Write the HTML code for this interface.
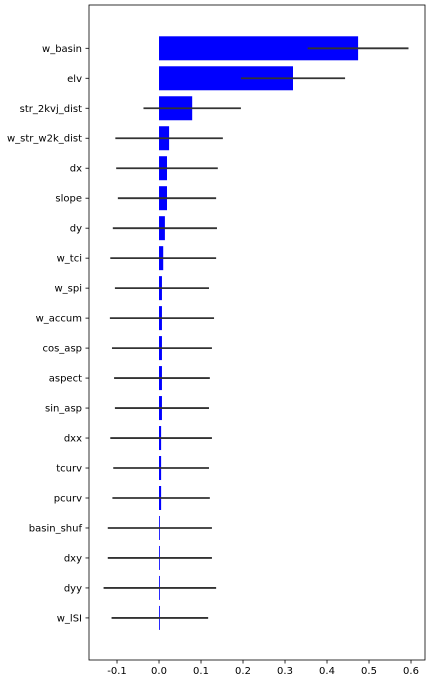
<!DOCTYPE html>
<html><head><meta charset="utf-8"><style>
body{margin:0;background:#fff;font-family:"Liberation Sans","DejaVu Sans",sans-serif}
svg text{font-family:"DejaVu Sans","Liberation Sans",sans-serif;font-size:10px;fill:#000}
</style></head><body>
<svg id="chart" width="431" height="683"></svg>
<script>
const features=["w_basin","elv","str_2kvj_dist","w_str_w2k_dist","dx","slope","dy","w_tci","w_spi","w_accum","cos_asp","aspect","sin_asp","dxx","tcurv","pcurv","basin_shuf","dxy","dyy","w_lSI"];
const importances=[0.474,0.319,0.079,0.024,0.019,0.019,0.014,0.010,0.007,0.007,0.007,0.007,0.007,0.005,0.005,0.005,0.002,0.002,0.002,0.002];
const errors=[0.120,0.124,0.116,0.128,0.121,0.117,0.124,0.126,0.112,0.124,0.119,0.114,0.112,0.121,0.114,0.116,0.124,0.124,0.134,0.115];
const xTicks=[-0.1,0.0,0.1,0.2,0.3,0.4,0.5,0.6];
const NS="http://www.w3.org/2000/svg";
const svg=document.getElementById('chart');
const L=89,R=425,T=5,B=660,xmin=-0.1667,xmax=0.6333;
const x=v=>L+(v-xmin)/(xmax-xmin)*(R-L);
const y=i=>48.3+i*29.98;
function mk(t,a){const e=document.createElementNS(NS,t);for(const k in a)e.setAttribute(k,a[k]);svg.appendChild(e);return e;}
features.forEach((f,i)=>{
  const v=importances[i],e=errors[i];
  const b=mk('rect',{x:Math.min(x(0),x(v)),y:y(i)-12,width:Math.abs(x(v)-x(0)),height:24,fill:'#0000ff'});
  
  
  const l=mk('line',{x1:x(v-e),x2:x(v+e),y1:y(i),y2:y(i),stroke:'#333','stroke-width':1.8});
  
  
  mk('line',{x1:L-3.5,x2:L,y1:y(i),y2:y(i),stroke:'#000','stroke-width':0.8});
  const t=mk('text',{x:L-7,y:y(i)+3.5,'text-anchor':'end'});t.textContent=f;
  
  
});
xTicks.forEach(v=>{
  mk('line',{x1:x(v),x2:x(v),y1:B,y2:B+3.5,stroke:'#000','stroke-width':0.8});
  const t=mk('text',{x:x(v),y:B+14,'text-anchor':'middle'});t.textContent=v.toFixed(1);
  
  
});
const f=mk('rect',{x:L,y:T,width:R-L,height:B-T,fill:'none',stroke:'#000','stroke-width':0.8});


</script>
</body></html>
